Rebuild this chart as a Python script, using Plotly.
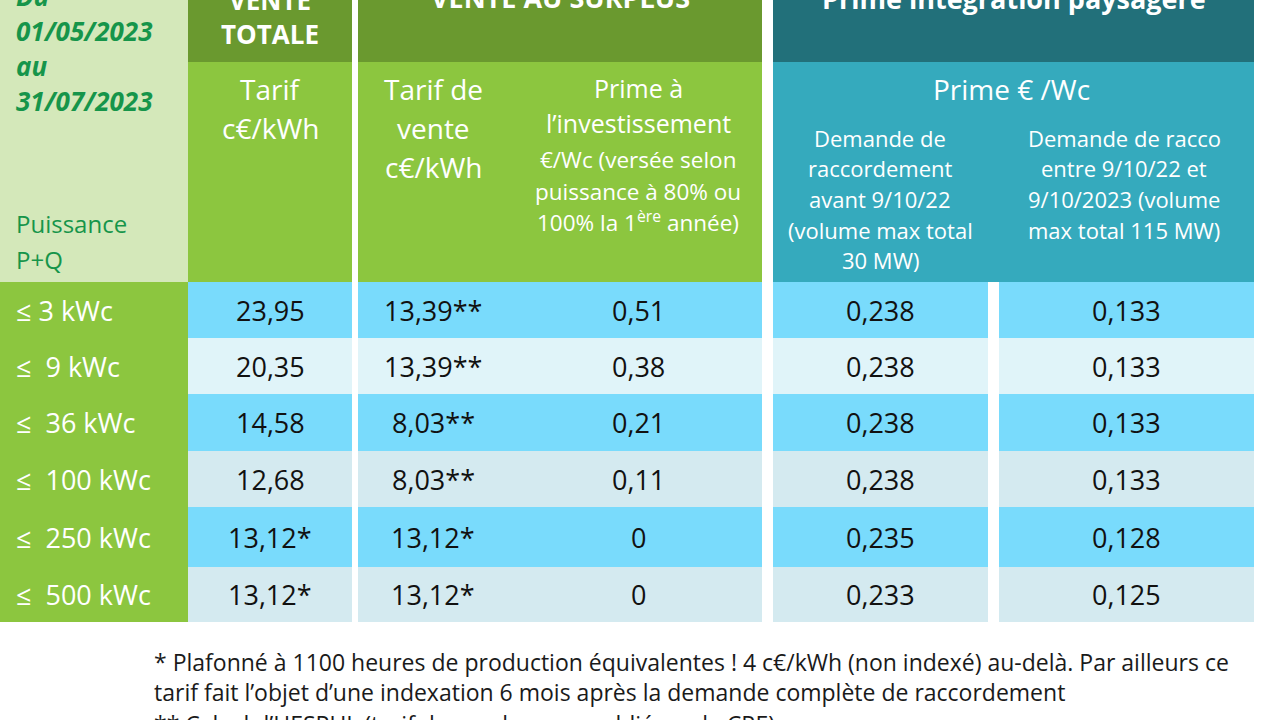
import plotly.graph_objects as go

# ---------------- data ----------------
puissance = ["≤ 3 kWc", "≤  9 kWc", "≤  36 kWc", "≤  100 kWc", "≤  250 kWc", "≤  500 kWc"]
vente_totale = [23.95, 20.35, 14.58, 12.68, 13.12, 13.12]
vente_totale_note = ["", "", "", "", "*", "*"]
surplus_tarif = [13.39, 13.39, 8.03, 8.03, 13.12, 13.12]
surplus_tarif_note = ["**", "**", "**", "**", "*", "*"]
surplus_prime = [0.51, 0.38, 0.21, 0.11, 0, 0]
paysagere_avant = [0.238, 0.238, 0.238, 0.238, 0.235, 0.233]
paysagere_entre = [0.133, 0.133, 0.133, 0.133, 0.128, 0.125]

group_titles = ["VENTE<br>TOTALE", "VENTE AU SURPLUS", "Prime intégration paysagère"]
periode_lines = ["Du", "01/05/2023", "au", "31/07/2023"]
puissance_title = ["Puissance", "P+Q"]
hdr_vt = ["Tarif", "c€/kWh"]
hdr_st = ["Tarif de", "vente", "c€/kWh"]
hdr_sp = ["Prime à", "l’investissement", "€/Wc (versée selon", "puissance à 80% ou",
          "100% la 1<sup>ère</sup> année)"]
hdr_prime = "Prime € /Wc"
hdr_avant = ["Demande de", "raccordement", "avant 9/10/22", "(volume max total", "30 MW)"]
hdr_entre = ["Demande de racco", "entre 9/10/22 et", "9/10/2023 (volume", "max total 115 MW)"]
footnotes = [
    "* Plafonné à 1100 heures de production équivalentes ! 4 c€/kWh (non indexé) au-delà. Par ailleurs ce",
    "tarif fait l’objet d’une indexation 6 mois après la demande complète de raccordement",
    "** Calcul d’HESPUL (tarif de surplus non publié par la CRE)",
]

# ---------------- layout constants ----------------
W, H = 1280, 720
FONT = "Open Sans, Noto Sans, sans-serif"
DARK_GREEN = "#6a992f"
GREEN = "#8cc63f"
LIGHT_GREEN = "#d4e8ba"
DARK_TEAL = "#22707a"
TEAL = "#35aabd"
ROW_FILLS = ["#79dbfc", "#e0f4f9", "#79dbfc", "#d4eaf0", "#79dbfc", "#d4eaf0"]
TXT_GREEN = "#16954a"

ROW_EDGES = [282, 338, 394, 451, 507, 567, 622]
LEFT = (0, 188)
C1 = (188, 352)
SUR = (358, 762)
C2X, C3X = 433, 638
TEAL_SEC = (773, 1254)
C4 = (773, 988)
C5 = (999, 1254)

shapes = []
def rect(x0, x1, y0, y1, color):
    shapes.append(dict(type="rect", xref="x", yref="y", x0=x0, x1=x1, y0=y0, y1=y1,
                       fillcolor=color, line=dict(width=0), layer="below"))

annotations = []
def ann(x, y, text, size, color="white", weight="normal", style="normal",
        family=FONT, xanchor="center", yshift=0):
    annotations.append(dict(x=x, y=y, xref="x", yref="y", text=text, showarrow=False,
                            xanchor=xanchor, yanchor="middle", yshift=yshift,
                            font=dict(size=size, color=color, family=family,
                                      weight=weight, style=style)))

# header backgrounds
rect(LEFT[0], LEFT[1], -40, ROW_EDGES[0], LIGHT_GREEN)
rect(C1[0], C1[1], -40, 62, DARK_GREEN)
rect(C1[0], C1[1], 62, ROW_EDGES[0], GREEN)
rect(SUR[0], SUR[1], -40, 62, DARK_GREEN)
rect(SUR[0], SUR[1], 62, ROW_EDGES[0], GREEN)
rect(TEAL_SEC[0], TEAL_SEC[1], -40, 62, DARK_TEAL)
rect(TEAL_SEC[0], TEAL_SEC[1], 62, ROW_EDGES[0], TEAL)
# body
rect(LEFT[0], LEFT[1], ROW_EDGES[0], ROW_EDGES[-1], GREEN)
for i in range(len(puissance)):
    y0, y1 = ROW_EDGES[i], ROW_EDGES[i + 1]
    for (a, b) in (C1, SUR, C4, C5):
        rect(a, b, y0, y1, ROW_FILLS[i])

# group titles (partly cut by top edge)
ann(sum(C1) / 2, 2, group_titles[0], 26, weight="bold", yshift=-15)
ann(sum(SUR) / 2, 2, group_titles[1], 27, weight="bold", yshift=5)
ann(sum(TEAL_SEC) / 2, 2, group_titles[2], 27, weight="bold", yshift=4)

# left header
for txt, yy, sh in zip(periode_lines, [3, 31, 66, 101], [7, 0, 0, 0]):
    ann(14, yy, txt, 26, color=TXT_GREEN, weight="bold", style="italic",
        xanchor="left", yshift=sh)
for txt, yy in zip(puissance_title, [223, 259]):
    ann(14, yy, txt, 24, color=TXT_GREEN, xanchor="left")

# sub headers
for txt, yy in zip(hdr_vt, [89, 128]):
    ann(sum(C1) / 2, yy, txt, 28)
for txt, yy in zip(hdr_st, [89, 128, 167]):
    ann(C2X, yy, txt, 28)
for txt, yy, fs in zip(hdr_sp, [88, 123, 159, 191, 221], [25, 25, 22.5, 22.5, 22.5]):
    ann(C3X, yy, txt, fs)
ann(1011, 89, hdr_prime, 28)
for txt, yy in zip(hdr_avant, [138, 168, 199, 230, 260]):
    ann(880, yy, txt, 22)
for txt, yy in zip(hdr_entre, [138, 168, 199, 230]):
    ann(1124, yy, txt, 22)

# body values
def fmt(v, d):
    return "0" if v == 0 else f"{v:.{d}f}".replace(".", ",")

for i in range(len(puissance)):
    yc = (ROW_EDGES[i] + ROW_EDGES[i + 1]) / 2
    ann(14, yc, puissance[i], 27, xanchor="left")
    ann(sum(C1) / 2, yc, fmt(vente_totale[i], 2) + vente_totale_note[i], 27, color="#111111")
    ann(C2X, yc, fmt(surplus_tarif[i], 2) + surplus_tarif_note[i], 27, color="#111111")
    ann(C3X, yc, fmt(surplus_prime[i], 2), 27, color="#111111")
    ann(sum(C4) / 2, yc, fmt(paysagere_avant[i], 3), 27, color="#111111")
    ann(sum(C5) / 2, yc, fmt(paysagere_entre[i], 3), 27, color="#111111")

# footnotes
for txt, yy, sh in zip(footnotes, [662, 692, 718], [0, 0, -6]):
    ann(152, yy, txt, 23, color="#1a1a1a", xanchor="left", yshift=sh)

fig = go.Figure()
fig.update_layout(
    width=W, height=H, margin=dict(l=0, r=0, t=0, b=0),
    paper_bgcolor="white", plot_bgcolor="white",
    xaxis=dict(range=[0, W], visible=False, fixedrange=True),
    yaxis=dict(range=[H, 0], visible=False, fixedrange=True),
    shapes=shapes, annotations=annotations, showlegend=False,
)
fig.write_html("out.html", config={"displayModeBar": False},
               post_script="document.body.style.margin='0';")
